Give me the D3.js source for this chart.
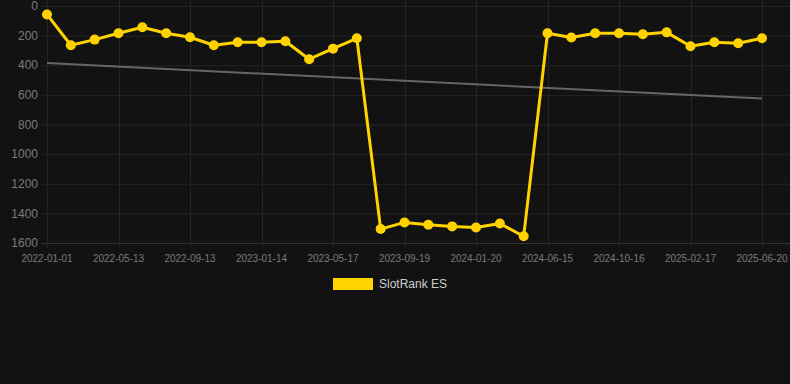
<!DOCTYPE html>
<html lang="en">
<head>
<meta charset="UTF-8">
<title>SlotRank ES</title>
<style>
  body { margin: 0; background: #121212; }
  svg { display: block; font-family: "Liberation Sans", Arial, sans-serif; }
</style>
</head>
<body>
<svg id="chart" width="790" height="384"></svg>
<script src="https://cdn.jsdelivr.net/npm/d3@7/dist/d3.min.js"></script>
<script>
// dates of each sample (only every third one is shown as a tick label)
const dates = [
  "2022-01-01","2022-02-14","2022-03-30","2022-05-13","2022-06-23","2022-08-03",
  "2022-09-13","2022-10-24","2022-12-04","2023-01-14","2023-02-24","2023-04-06",
  "2023-05-17","2023-06-28","2023-08-08","2023-09-19","2023-10-30","2023-12-10",
  "2024-01-20","2024-03-08","2024-04-27","2024-06-15","2024-07-26","2024-09-05",
  "2024-10-16","2024-11-26","2025-01-06","2025-02-17","2025-03-30","2025-05-10",
  "2025-06-20"
];
const ranks = [
  57, 265, 227, 184, 144, 184, 211, 265, 245, 245, 238, 359, 288, 218,
  1506, 1461, 1477, 1488, 1495, 1468, 1555,
  184, 213, 184, 184, 191, 178, 272, 245, 252, 218
];
const trend = [385, 625];          // trend line value at first / last date
const yTicks = [0, 200, 400, 600, 800, 1000, 1200, 1400, 1600];
const seriesName = "SlotRank ES";

const svg = d3.select("#chart");
const margin = { top: 6, right: 28, bottom: 141, left: 47 };
const W = 790, H = 384;

const x = d3.scalePoint()
  .domain(dates)
  .range([margin.left, W - margin.right]);

const y = d3.scaleLinear()
  .domain([0, 1600])
  .range([margin.top, H - margin.bottom]);

const gridCol = "#242424";
const labelCol = "#7a7a7a";

// horizontal grid + y labels
svg.append("g")
  .selectAll("line")
  .data(yTicks)
  .join("line")
    .attr("x1", margin.left - 6)
    .attr("x2", W)
    .attr("y1", d => y(d) + 0.5)
    .attr("y2", d => y(d) + 0.5)
    .attr("stroke", d => d === 1600 ? "#333" : gridCol);

svg.append("g")
  .selectAll("text")
  .data(yTicks)
  .join("text")
    .attr("x", 38)
    .attr("y", d => y(d))
    .attr("dy", "0.35em")
    .attr("text-anchor", "end")
    .attr("fill", labelCol)
    .attr("font-size", 12)
    .text(d => d);

// vertical grid + x labels, every third date
const shown = dates.filter((d, i) => i % 3 === 0);

svg.append("g")
  .selectAll("line")
  .data(shown)
  .join("line")
    .attr("x1", d => Math.round(x(d)) + 0.5)
    .attr("x2", d => Math.round(x(d)) + 0.5)
    .attr("y1", 0)
    .attr("y2", y(1600) + 5)
    .attr("stroke", gridCol);

svg.append("g")
  .selectAll("text")
  .data(shown)
  .join("text")
    .attr("x", d => x(d))
    .attr("y", 262)
    .attr("text-anchor", "middle")
    .attr("fill", labelCol)
    .attr("font-size", 10)
    .text(d => d);

// trend line
svg.append("line")
  .attr("x1", x(dates[0]))
  .attr("x2", x(dates[dates.length - 1]))
  .attr("y1", y(trend[0]))
  .attr("y2", y(trend[1]))
  .attr("stroke", "#666")
  .attr("stroke-width", 2);

// rank line
const pts = dates.map((d, i) => [x(d), y(ranks[i])]);
svg.append("path")
  .attr("d", d3.line()(pts))
  .attr("fill", "none")
  .attr("stroke", "#ffd200")
  .attr("stroke-width", 3)
  .attr("stroke-linejoin", "round");

svg.append("g")
  .selectAll("circle")
  .data(pts)
  .join("circle")
    .attr("cx", d => d[0])
    .attr("cy", d => d[1])
    .attr("r", 5)
    .attr("fill", "#ffd200");

// legend
svg.append("rect")
  .attr("x", 333).attr("y", 278)
  .attr("width", 40).attr("height", 12)
  .attr("fill", "#ffd200");
svg.append("text")
  .attr("x", 379).attr("y", 284)
  .attr("dy", "0.35em")
  .attr("fill", "#cfcfcf")
  .attr("font-size", 12)
  .text(seriesName);
</script>
</body>
</html>
